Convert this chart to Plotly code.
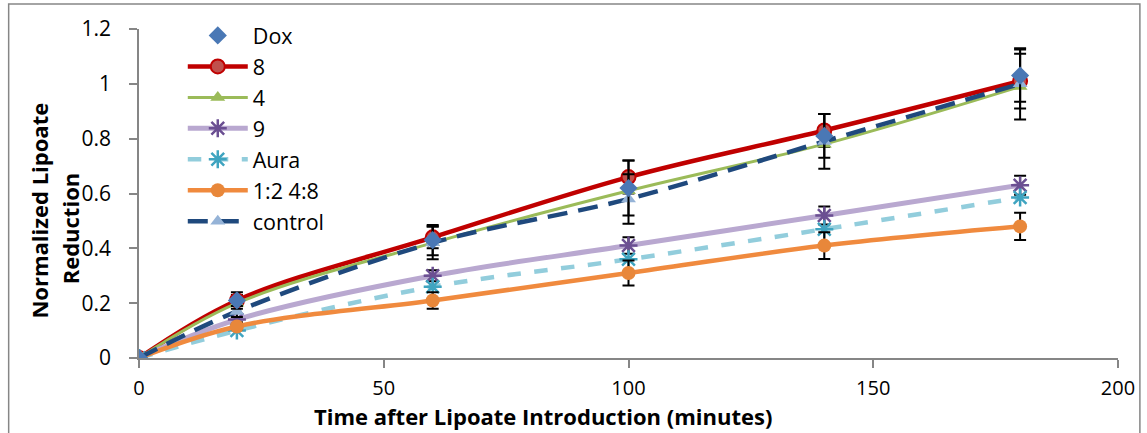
import plotly.graph_objects as go

# Sampling times (minutes)
time_min = [0, 20, 60, 100, 140, 180]

# Normalized lipoate reduction per condition
dox = [0, 0.21, 0.43, 0.62, 0.81, 1.03]
dox_err = [0, 0.03, 0.055, 0.10, 0.08, 0.095]

s8 = [0, 0.21, 0.44, 0.66, 0.83, 1.01]
s8_err = [0, 0.02, 0.04, 0.06, 0.06, 0.10]

s4 = [0, 0.20, 0.42, 0.61, 0.78, 0.99]

s9 = [0, 0.14, 0.30, 0.41, 0.52, 0.63]
s9_err = [0, 0.01, 0.02, 0.03, 0.033, 0.035]

aura = [0, 0.10, 0.26, 0.36, 0.47, 0.585]

mix = [0, 0.115, 0.21, 0.31, 0.41, 0.48]
mix_err = [0, 0.01, 0.03, 0.046, 0.049, 0.05]

control = [0, 0.17, 0.42, 0.58, 0.79, 1.00]
control_err = [0, 0.02, 0.06, 0.09, 0.10, 0.13]

x_ticks = [0, 50, 100, 150, 200]
y_ticks = [0, 0.2, 0.4, 0.6, 0.8, 1.0, 1.2]
y_tick_text = ["0", "0.2", "0.4", "0.6", "0.8", "1", "1.2"]

FONT = "Open Sans"
AXIS_GRAY = "#868686"


def err(values, show=True):
    return dict(type="data", array=values, visible=show, color="black",
                thickness=2, width=6)


fig = go.Figure()

fig.add_trace(go.Scatter(
    x=time_min, y=s8, name="8", mode="lines+markers", legendrank=2,
    line=dict(color="#C00000", width=4.5, shape="spline", smoothing=1),
    marker=dict(symbol="circle", size=14, color="#C0504D",
                line=dict(color="#C00000", width=2)),
    error_y=err(s8_err)))

fig.add_trace(go.Scatter(
    x=time_min, y=s4, name="4", mode="lines+markers", legendrank=3,
    line=dict(color="#9BBB59", width=3, shape="spline", smoothing=1),
    marker=dict(symbol="triangle-up", size=13, color="#9BBB59")))

fig.add_trace(go.Scatter(
    x=time_min, y=s9, name="9", mode="lines+markers", legendrank=4,
    line=dict(color="#B9A8D0", width=5, shape="spline", smoothing=1),
    marker=dict(symbol="asterisk-open", size=15, color="#6B4F92",
                line=dict(width=2.5)),
    error_y=err(s9_err)))

fig.add_trace(go.Scatter(
    x=time_min, y=aura, name="Aura", mode="lines+markers", legendrank=5,
    line=dict(color="#92CDDC", width=4.5, dash="dash", shape="spline",
              smoothing=1),
    marker=dict(symbol="asterisk-open", size=15, color="#3FA4C0",
                line=dict(width=2.5))))

fig.add_trace(go.Scatter(
    x=time_min, y=mix, name="1:2 4:8", mode="lines+markers", legendrank=6,
    line=dict(color="#F08A3E", width=4.5, shape="spline", smoothing=1),
    marker=dict(symbol="circle", size=14, color="#E8873A"),
    error_y=err(mix_err)))

fig.add_trace(go.Scatter(
    x=time_min, y=control, name="control", mode="lines+markers",
    legendrank=7,
    line=dict(color="#1F497D", width=4.5, dash="20px,11px", shape="spline",
              smoothing=1),
    marker=dict(symbol="triangle-up", size=13, color="#95B3D7"),
    error_y=err(control_err)))

fig.add_trace(go.Scatter(
    x=time_min, y=dox, name="Dox", mode="markers", legendrank=1,
    marker=dict(symbol="diamond", size=14, color="#4A78B5"),
    error_y=err(dox_err)))

# Chart frame
fig.add_shape(type="rect", xref="paper", yref="paper",
              x0=(8 - 139) / 984, x1=(1145 - 139) / 984,
              y0=(358 - 445) / 329, y1=(358 - 4) / 329,
              line=dict(color=AXIS_GRAY, width=1.5), layer="below")

# Axis titles
TITLE_FONT = dict(family=FONT, size=22, color="black")
fig.add_annotation(text="<b>Time after Lipoate Introduction (minutes)</b>",
                   xref="paper", yref="paper", x=(545 - 139) / 984,
                   y=(358 - 416) / 329, xanchor="center", yanchor="middle",
                   showarrow=False, font=TITLE_FONT)
fig.add_annotation(text="<b>Normalized Lipoate</b>", textangle=-90,
                   xref="paper", yref="paper", x=(38 - 139) / 984,
                   y=(358 - 211) / 329, xanchor="center", yanchor="middle",
                   showarrow=False, font=TITLE_FONT)
fig.add_annotation(text="<b>Reduction</b>", textangle=-90,
                   xref="paper", yref="paper", x=(70 - 139) / 984,
                   y=(358 - 228) / 329, xanchor="center", yanchor="middle",
                   showarrow=False, font=TITLE_FONT)

fig.update_layout(
    width=1147, height=433,
    margin=dict(l=139, r=24, t=29, b=75),
    paper_bgcolor="white", plot_bgcolor="white",
    font=dict(family=FONT, size=21, color="black"),
    showlegend=True,
    legend=dict(x=(183 - 139) / 984, y=(358 - 15) / 329, xanchor="left",
                yanchor="top", bgcolor="rgba(0,0,0,0)", itemwidth=60,
                maxheight=400,
                font=dict(family=FONT, size=21.5, color="black"),
                tracegroupgap=0, traceorder="normal"),
    xaxis=dict(range=[0, 200], tickvals=x_ticks, showgrid=False,
               zeroline=False, showline=True, linecolor=AXIS_GRAY,
               linewidth=1.5, ticks="outside", ticklen=8, tickwidth=1.5,
               tickcolor=AXIS_GRAY, ticklabelstandoff=3,
               tickfont=dict(family=FONT, size=20)),
    yaxis=dict(range=[0, 1.2], tickvals=y_ticks, ticktext=y_tick_text,
               showgrid=False, zeroline=False, showline=True,
               linecolor=AXIS_GRAY, linewidth=1.5, ticks="outside",
               ticklen=8, tickwidth=1.5, tickcolor=AXIS_GRAY,
               ticklabelstandoff=14,
               tickfont=dict(family=FONT, size=21)),
)

fig.write_html("out.html")
